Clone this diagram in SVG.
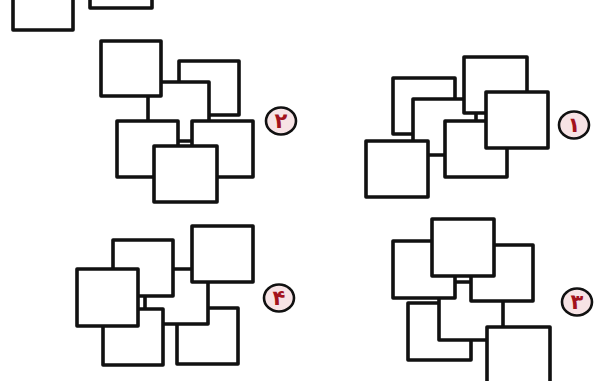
<svg xmlns="http://www.w3.org/2000/svg" width="598" height="381" viewBox="0 0 598 381">
<style>
.sq{fill:#fff;stroke:#111;stroke-width:3.6;stroke-linejoin:round}
.badge{fill:#f7e3e5;stroke:#111;stroke-width:2.6}
.num{font-family:"DejaVu Sans",sans-serif;font-size:21px;font-weight:bold;fill:#a3121c;text-anchor:middle}
</style>
<rect width="598" height="381" fill="#fff"/>
<g id="top-strip">
<rect class="sq" x="13" y="-30" width="60" height="60"/>
<rect class="sq" x="90" y="-50" width="62" height="58"/>
</g>
<g id="figure-2">
<rect class="sq" x="179" y="61" width="60" height="54"/>
<rect class="sq" x="148" y="82" width="61" height="59"/>
<rect class="sq" x="101" y="41" width="60" height="55"/>
<rect class="sq" x="117" y="121" width="61" height="56"/>
<rect class="sq" x="192" y="121" width="61" height="56"/>
<rect class="sq" x="154" y="146" width="63" height="56"/>
<ellipse class="badge" cx="281" cy="121" rx="15" ry="13.5"/>
<text class="num" x="281" y="128">۲</text>
</g>
<g id="figure-1">
<rect class="sq" x="393" y="78" width="62" height="56"/>
<rect class="sq" x="413" y="99" width="63" height="56"/>
<rect class="sq" x="464" y="57" width="63" height="56"/>
<rect class="sq" x="445" y="121" width="62" height="56"/>
<rect class="sq" x="486" y="92" width="62" height="56"/>
<rect class="sq" x="366" y="141" width="62" height="56"/>
<ellipse class="badge" cx="574" cy="125" rx="15" ry="13.5"/>
<text class="num" x="574" y="132">۱</text>
</g>
<g id="figure-4">
<rect class="sq" x="177" y="308" width="61" height="56"/>
<rect class="sq" x="145" y="269" width="63" height="55"/>
<rect class="sq" x="103" y="309" width="60" height="56"/>
<rect class="sq" x="192" y="226" width="61" height="56"/>
<rect class="sq" x="113" y="240" width="60" height="56"/>
<rect class="sq" x="77" y="269" width="61" height="57"/>
<ellipse class="badge" cx="279" cy="298" rx="15" ry="13.5"/>
<text class="num" x="279" y="305">۴</text>
</g>
<g id="figure-3">
<rect class="sq" x="408" y="303" width="63" height="57"/>
<rect class="sq" x="439" y="282" width="64" height="58"/>
<rect class="sq" x="487" y="327" width="63" height="70"/>
<rect class="sq" x="393" y="241" width="62" height="57"/>
<rect class="sq" x="471" y="245" width="62" height="56"/>
<rect class="sq" x="432" y="219" width="62" height="57"/>
<ellipse class="badge" cx="577" cy="302" rx="15" ry="13.5"/>
<text class="num" x="577" y="309">۳</text>
</g>
</svg>
